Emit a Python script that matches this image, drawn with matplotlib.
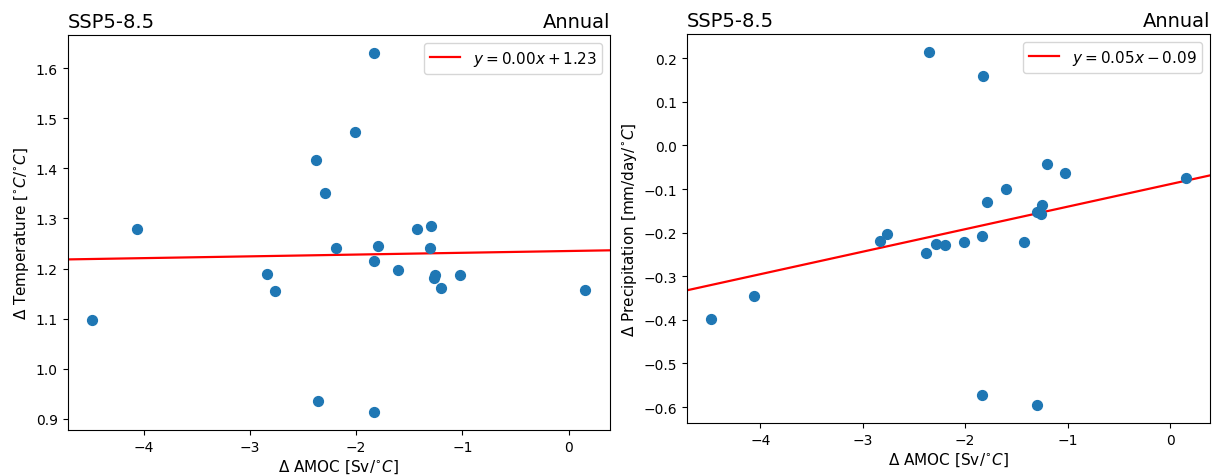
import numpy as np
import matplotlib
matplotlib.use("Agg")
import matplotlib.pyplot as plt

# Δ AMOC [Sv/°C] per model
amoc = [-4.484, -4.063, -2.835, -2.760, -2.378, -2.355, -2.289, -2.193, -2.008,
        -1.830, -1.832, -1.835, -1.790, -1.605, -1.430, -1.298, -1.300, -1.255,
        -1.262, -1.205, -1.025, 0.158]
# Δ Temperature [°C/°C]
temp = [1.097, 1.279, 1.189, 1.155, 1.417, 0.935, 1.351, 1.241, 1.472,
        1.631, 1.215, 0.913, 1.245, 1.197, 1.279, 1.284, 1.242, 1.187,
        1.181, 1.162, 1.188, 1.157]
# Δ Precipitation [mm/day/°C]
prec = [-0.398, -0.345, -0.219, -0.202, -0.247, 0.215, -0.227, -0.228, -0.222,
        0.160, -0.207, -0.572, -0.129, -0.099, -0.222, -0.596, -0.153, -0.136,
        -0.158, -0.043, -0.064, -0.075]

scenario = "SSP5-8.5"
season = "Annual"
xlabel = r"$\Delta$ AMOC [Sv/$^{\circ}C$]"
ylabels = [r"$\Delta$ Temperature [$^{\circ}C/^{\circ}C$]",
           r"$\Delta$ Precipitation [mm/day/$^{\circ}C$]"]

W, H = 1213, 477
fig = plt.figure(figsize=(W / 100, H / 100), dpi=100)
rects = [(67.5, 36, 610, 431), (687, 35, 1210, 424)]
axes = [fig.add_axes([l / W, 1 - b / H, (r - l) / W, (b - t) / H]) for (l, t, r, b) in rects]

x = np.array(amoc)
for ax, yv, yl in zip(axes, [temp, prec], ylabels):
    y = np.array(yv)
    ax.scatter(x, y, s=50, color="tab:blue", zorder=3)
    ax.margins(0.05)
    ax.autoscale_view()
    xlim = ax.get_xlim()
    ylim = ax.get_ylim()
    m, b = np.polyfit(x, y, 1)
    sign = "+" if b >= 0 else "-"
    label = rf"$y = {m:.2f}x {sign} {abs(b):.2f}$"
    xx = np.array(xlim)
    ax.plot(xx, m * xx + b, color="red", lw=1.6, label=label, zorder=2)
    ax.set_xlim(xlim)
    ax.set_ylim(ylim)
    ax.set_title(scenario, loc="left", fontsize=14)
    ax.set_title(season, loc="right", fontsize=14)
    ax.set_xlabel(xlabel, fontsize=11, labelpad=3)
    ax.set_ylabel(yl, fontsize=11, labelpad=3)
    ax.tick_params(labelsize=10)
    ax.legend(loc="upper right", fontsize=11)

fig.savefig("out.png", dpi=100)
